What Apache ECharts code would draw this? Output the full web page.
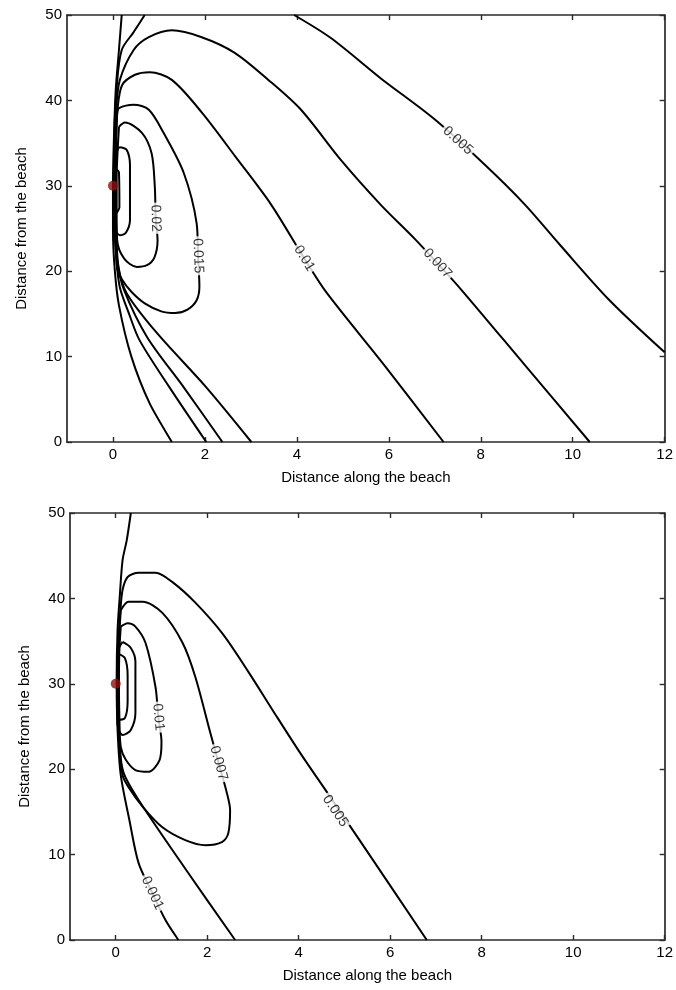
<!DOCTYPE html>
<html>
<head>
<meta charset="utf-8">
<script src="https://cdn.jsdelivr.net/npm/echarts@6/dist/echarts.min.js"></script>
<style>
html, body { margin: 0; padding: 0; background: #fff; }
#chart { width: 676px; height: 990px; }
</style>
</head>
<body>
<div id="chart"></div>
<script>
// axes
var xTicks = [0, 2, 4, 6, 8, 10, 12];
var yTicks = [0, 10, 20, 30, 40, 50];
var source = [0, 30];

// upper figure, contour lines ([x, y] in data units)
var topLow = [[0.19, 50], [0.13, 45.9], [0.06, 41.2], [0.02, 35.4], [0.0, 30.2], [0.0, 24.8], [0.04, 20.1], [0.13, 16], [0.4, 10], [0.8, 4.5], [1.28, 0]];
var top005 = [[0.69, 50], [0.45, 48], [0.19, 45.9], [0.08, 41.5], [0.03, 36], [0.02, 30], [0.03, 25], [0.08, 21], [0.15, 18.1], [0.35, 15], [0.58, 11.9], [1.23, 6.4], [2.03, 0]];
var top005b = [[3.94, 50], [4.74, 47.3], [5.82, 42.6], [6.97, 37.9], [8.10, 32.4], [8.96, 27.8], [9.72, 23.1], [10.80, 16.6], [12, 10.5]];
var top007 = [[2.38, 0], [1.54, 6.4], [0.74, 12.3], [0.24, 17.8], [0.1, 21], [0.05, 25], [0.04, 30], [0.05, 35], [0.07, 39], [0.15, 42.4], [0.45, 45.9], [0.78, 47.4], [1.28, 48.2], [1.93, 47.4], [2.64, 45.6], [3.38, 42.4], [4.09, 38.9], [4.96, 33.0], [5.82, 27.8], [6.58, 23.7], [7.06, 20.9], [7.55, 18.0], [8.96, 9.0], [10.37, 0]];
var top01 = [[3.01, 0], [2.03, 6.4], [0.95, 12.8], [0.3, 17.4], [0.12, 20.5], [0.07, 25], [0.06, 30], [0.07, 35], [0.1, 39], [0.2, 41.8], [0.48, 43.0], [0.8, 43.3], [1.28, 42.4], [1.93, 38.6], [2.68, 33.3], [3.44, 27.8], [4.16, 21.5], [4.63, 17.6], [5.93, 8.8], [7.19, 0]];
var top015 = [[0.09, 38.5], [0.13, 39.1], [0.45, 39.5], [0.78, 38.9], [1.10, 36.2], [1.54, 31.5], [1.82, 25.6], [1.85, 21.8], [1.88, 18.2], [1.82, 16.6], [1.62, 15.5], [1.35, 15.1], [1.05, 15.3], [0.7, 16.2], [0.4, 17.6], [0.2, 19.0], [0.09, 20.4], [0.06, 25], [0.05, 30], [0.06, 35], [0.09, 38.5]];
var top02 = [[0.13, 36.9], [0.26, 37.4], [0.63, 36.2], [0.84, 33.8], [0.91, 29.9], [0.93, 26.2], [0.97, 23.6], [0.9, 21.6], [0.74, 20.7], [0.52, 20.5], [0.24, 21.5], [0.09, 23.7], [0.08, 27], [0.08, 31], [0.1, 34], [0.13, 36.9]];
var top03 = [[0.04, 33.0], [0.15, 34.5], [0.30, 34.2], [0.37, 32.4], [0.37, 26.0], [0.28, 24.5], [0.15, 24.2], [0.04, 25.1], [0.03, 29], [0.04, 33.0]];
var top04 = [[0.06, 32], [0.13, 31.6], [0.14, 27.5], [0.07, 26.8], [0.05, 29.5], [0.06, 32]];
var topText = ['0.005', '0.007', '0.01', '0.015', '0.02'];
var topAt = [[7.5, 35.3], [7.06, 20.9], [4.16, 21.5], [1.85, 21.8], [0.93, 26.2]];

// lower figure
var bot001 = [[0.33, 50], [0.24, 46.8], [0.15, 44.5], [0.09, 40.4], [0.04, 36.3], [0.02, 30.4], [0.04, 24.6], [0.11, 19.3], [0.3, 14], [0.5, 9.0], [0.8, 5.5], [1.09, 2.3], [1.37, 0]];
var bot005 = [[2.61, 0], [1.54, 8.2], [0.5, 16.4], [0.17, 19.6], [0.08, 23], [0.05, 27], [0.05, 31], [0.06, 35], [0.1, 38.5], [0.15, 41.0], [0.26, 42.5], [0.5, 43.0], [0.87, 43.0], [1.24, 41.9], [1.74, 39.5], [2.33, 35.9], [2.9, 31.4], [3.42, 27.0], [4.02, 22.0], [4.67, 16.9], [5.33, 11.7], [6.80, 0]];
var bot007 = [[0.11, 38.6], [0.28, 39.6], [0.59, 39.6], [1.02, 38.3], [1.46, 34.8], [1.74, 30.8], [2.07, 24.2], [2.25, 20.7], [2.43, 17.2], [2.5, 15.2], [2.46, 12.5], [2.33, 11.5], [1.96, 11.1], [1.52, 11.7], [1.02, 13.2], [0.59, 15.6], [0.28, 17.9], [0.15, 19.3], [0.08, 23], [0.06, 27], [0.06, 31], [0.07, 35], [0.11, 38.6]];
var bot01 = [[0.11, 36.7], [0.26, 37.1], [0.43, 36.7], [0.65, 34.8], [0.87, 29.6], [0.93, 26.1], [1.0, 23.2], [0.96, 21.1], [0.72, 19.7], [0.43, 19.9], [0.22, 21.1], [0.11, 22.6], [0.08, 26], [0.07, 30], [0.08, 34], [0.11, 36.7]];
var bot02 = [[0.15, 34.9], [0.33, 34.2], [0.43, 32.6], [0.43, 26.6], [0.33, 24.6], [0.15, 24.0], [0.04, 25.2], [0.03, 30], [0.06, 34], [0.15, 34.9]];
var bot03 = [[0.06, 33.5], [0.2, 33], [0.26, 31], [0.26, 28], [0.2, 26], [0.06, 25.8], [0.05, 30], [0.06, 33.5]];
var botText = ['0.005', '0.007', '0.01', '0.001'];
var botAt = [[4.8, 15.1], [2.25, 20.7], [0.93, 26.1], [0.8, 5.5]];

var plots = [
	{ lines: [topLow, top005, top005b, top007, top01, top015, top02, top03, top04], text: topText, at: topAt },
	{ lines: [bot001, bot005, bot007, bot01, bot02, bot03], text: botText, at: botAt }
];

var font = "'Liberation Sans', Arial, Helvetica, sans-serif";
var axisColor = '#2a2a2a';
var chart = echarts.init(document.getElementById('chart'));

var grids = [
	{ left: 67, top: 15, width: 598, height: 427 },
	{ left: 70, top: 513, width: 597, height: 427 }
];
var xAxes = [], yAxes = [], series = [];

grids.forEach(function (g, i) {
	var line = { show: true, onZero: false, lineStyle: { color: axisColor, width: 1.7 } };
	var tick = { show: true, inside: true, length: 5, lineStyle: { color: axisColor, width: 1.4 } };
	xAxes.push({
		gridIndex: i, type: 'value', min: -1, max: 12, position: 'bottom',
		name: 'Distance along the beach', nameLocation: 'middle', nameGap: 28,
		nameTextStyle: { fontFamily: font, fontSize: 15, color: '#000' },
		axisLine: line, axisTick: Object.assign({ customValues: xTicks }, tick),
		axisLabel: { customValues: xTicks, fontFamily: font, fontSize: 15, color: '#000', margin: 5 },
		splitLine: { show: false }
	});
	xAxes.push({
		gridIndex: i, type: 'value', min: -1, max: 12, position: 'top',
		axisLine: line, axisTick: Object.assign({ customValues: xTicks }, tick),
		axisLabel: { show: false }, splitLine: { show: false }
	});
	yAxes.push({
		gridIndex: i, type: 'value', min: 0, max: 50, interval: 10, position: 'left',
		name: 'Distance from the beach', nameLocation: 'middle', nameGap: 38, nameRotate: 90,
		nameTextStyle: { fontFamily: font, fontSize: 15, color: '#000' },
		axisLine: line, axisTick: tick,
		axisLabel: { fontFamily: font, fontSize: 15, color: '#000', margin: 5 },
		splitLine: { show: false }
	});
	yAxes.push({
		gridIndex: i, type: 'value', min: 0, max: 50, interval: 10, position: 'right',
		axisLine: line, axisTick: tick, axisLabel: { show: false }, splitLine: { show: false }
	});

	plots[i].lines.forEach(function (pts) {
		series.push({
			type: 'line', xAxisIndex: 2 * i, yAxisIndex: 2 * i, data: pts,
			symbol: 'none', smooth: 0.3, silent: true, z: 2,
			lineStyle: { color: '#000', width: 2 }
		});
	});
	series.push({
		id: 'labels' + i, type: 'scatter', xAxisIndex: 2 * i, yAxisIndex: 2 * i,
		symbolSize: 1, itemStyle: { color: 'rgba(0,0,0,0)' }, silent: true, z: 5,
		label: {
			show: true, position: 'inside', formatter: '{b}', fontFamily: font, fontSize: 14,
			color: '#000', backgroundColor: '#fff', padding: [0, 2]
		},
		data: plots[i].at.map(function (p, k) { return { name: plots[i].text[k], value: p }; })
	});
	series.push({
		type: 'scatter', xAxisIndex: 2 * i, yAxisIndex: 2 * i, data: [source],
		symbolSize: 10, itemStyle: { color: '#8c1111' }, silent: true, z: 6
	});
});

chart.setOption({
	animation: false,
	backgroundColor: '#fff',
	grid: grids,
	xAxis: xAxes,
	yAxis: yAxes,
	series: series
});

// turn each contour label along its line, like clabel does
function segDist(p, a, b) {
	var dx = b[0] - a[0], dy = b[1] - a[1];
	var t = ((p[0] - a[0]) * dx + (p[1] - a[1]) * dy) / (dx * dx + dy * dy || 1);
	t = Math.max(0, Math.min(1, t));
	var x = a[0] + t * dx - p[0], y = a[1] + t * dy - p[1];
	return x * x + y * y;
}
var update = [];
plots.forEach(function (pl, i) {
	var finder = { xAxisIndex: 2 * i, yAxisIndex: 2 * i };
	var data = pl.at.map(function (p, k) {
		var lp = chart.convertToPixel(finder, p);
		var best = Infinity, ang = 0;
		pl.lines.forEach(function (pts) {
			for (var j = 0; j < pts.length - 1; j++) {
				var a = chart.convertToPixel(finder, pts[j]);
				var b = chart.convertToPixel(finder, pts[j + 1]);
				var d = segDist(lp, a, b);
				if (d < best) {
					best = d;
					ang = -Math.atan2(b[1] - a[1], b[0] - a[0]) * 180 / Math.PI;
				}
			}
		});
		while (ang > 80) ang -= 180;
		while (ang <= -100) ang += 180;
		return { name: pl.text[k], value: p, label: { rotate: ang } };
	});
	update.push({ id: 'labels' + i, data: data });
});
chart.setOption({ series: update });
</script>
</body>
</html>
